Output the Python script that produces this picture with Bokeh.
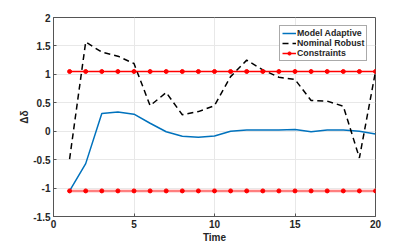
from bokeh.plotting import figure
from bokeh.models import FixedTicker, Legend, LegendItem, Range1d
from bokeh.embed import file_html
from bokeh.resources import INLINE

# data
time = list(range(1, 21))
model_adaptive = [-1.05, -0.57, 0.31, 0.34, 0.30, 0.14, -0.01, -0.09, -0.105, -0.085,
                  0.0, 0.02, 0.02, 0.02, 0.03, -0.01, 0.02, 0.02, 0.0, -0.05]
nominal_robust = [-0.49, 1.57, 1.39, 1.32, 1.19, 0.45, 0.68, 0.29, 0.345, 0.45,
                  0.96, 1.25, 1.08, 0.95, 0.91, 0.54, 0.53, 0.44, -0.47, 1.05]
upper_constraint = [1.05] * 20
lower_constraint = [-1.05] * 20
x_ticks = [0, 5, 10, 15, 20]
y_ticks = [-1.5, -1, -0.5, 0, 0.5, 1, 1.5, 2]
y_tick_labels = ["-1.5", "-1", "-0.5", "0", "0.5", "1", "1.5", "2"]

FONT = "Liberation Sans"
AX = "#555555"
TXT = "#262626"

p = figure(frame_width=322, frame_height=199, output_backend="svg", toolbar_location=None,
           x_range=Range1d(0, 20), y_range=Range1d(-1.5, 2),
           min_border_left=53, min_border_top=17, min_border_right=20, min_border_bottom=26)
p.background_fill_color = "white"
p.border_fill_color = "white"
p.outline_line_color = AX
p.outline_line_width = 1

for ax in (p.xaxis[0], p.yaxis[0]):
    ax.axis_line_color = AX
    ax.major_tick_line_color = AX
    ax.major_tick_in = 3
    ax.major_tick_out = 0
    ax.minor_tick_line_color = None
    ax.major_label_text_font = FONT
    ax.major_label_text_font_style = "bold"
    ax.major_label_text_font_size = "10px"
    ax.major_label_text_color = TXT
    ax.axis_label_text_font = FONT
    ax.axis_label_text_font_style = "bold"
    ax.axis_label_text_font_size = "10px"
    ax.axis_label_text_color = TXT
    ax.major_label_standoff = 3
    ax.axis_label_standoff = 1

p.xaxis[0].ticker = FixedTicker(ticks=x_ticks)
p.yaxis[0].ticker = FixedTicker(ticks=y_ticks)
p.yaxis[0].major_label_overrides = {t: l for t, l in zip(y_ticks, y_tick_labels)}
p.xaxis[0].axis_label = "Time"
p.yaxis[0].axis_label = "Δδ"
p.yaxis[0].axis_label_standoff = 0

p.xgrid.ticker = FixedTicker(ticks=x_ticks)
p.ygrid.ticker = FixedTicker(ticks=y_ticks)
p.grid.grid_line_color = "#e8e8e8"
p.grid.grid_line_width = 1

r_ma = p.line(time, model_adaptive, line_color="#0072BD", line_width=1.5)
r_nr = p.line(time, nominal_robust, line_color="black", line_width=1.5, line_dash="6 4")
r_up = p.line(time, upper_constraint, line_color="#FF0000", line_width=1.5)
r_lo = p.line(time, lower_constraint, line_color="#FF0000", line_width=2.5, line_alpha=0.5)
r_ups = p.scatter(time, upper_constraint, marker="circle", size=4, fill_color="#FF0000",
                  line_color="#FF0000")
p.scatter(time, lower_constraint, marker="circle", size=4, fill_color="#FF0000",
          line_color="#FF0000")

legend = Legend(items=[LegendItem(label="Model Adaptive", renderers=[r_ma]),
                       LegendItem(label="Nominal Robust", renderers=[r_nr]),
                       LegendItem(label="Constraints", renderers=[r_up, r_ups])],
                location=(226, 155))
legend.label_text_font = FONT
legend.label_text_font_style = "bold"
legend.label_text_font_size = "8.8px"
legend.label_text_color = TXT
legend.glyph_width = 14
legend.glyph_height = 8
legend.label_height = 8
legend.label_width = 10
legend.label_standoff = 1
legend.spacing = -1
legend.padding = 2
legend.margin = 0
legend.border_line_color = AX
legend.border_line_width = 1
legend.background_fill_alpha = 1
p.add_layout(legend)

open("out.html", "w").write(file_html(p, INLINE))
